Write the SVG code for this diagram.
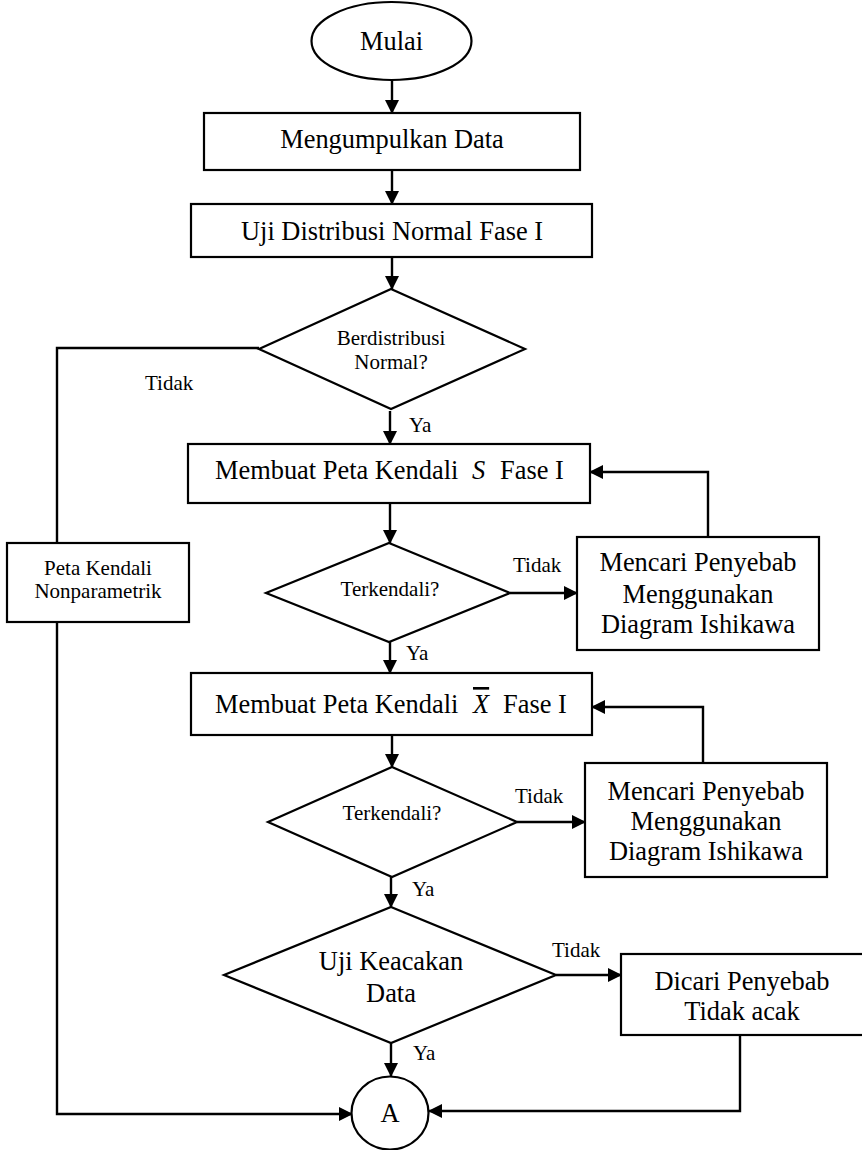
<svg xmlns="http://www.w3.org/2000/svg" width="862" height="1150" viewBox="0 0 862 1150">
<style>
  .shape { fill: #fff; stroke: #000; stroke-width: 2.2; }
  .conn { fill: none; stroke: #000; stroke-width: 2.4; }
  text { font-family: "Liberation Serif", "Times New Roman", serif; fill: #000; }
  .big { font-size: 26.4px; }
  .small { font-size: 21px; }
  .mid { text-anchor: middle; }
  .it { font-style: italic; }
</style>
<defs>
  <marker id="arr" viewBox="0 0 14 14" refX="13" refY="7" markerWidth="14" markerHeight="14" markerUnits="userSpaceOnUse" orient="auto">
    <path d="M0,0 L14,7 L0,14 Z" fill="#000"/>
  </marker>
</defs>
<rect width="862" height="1150" fill="#fff"/>

<g id="connectors">
  <path class="conn" d="M392,80 L392,113" marker-end="url(#arr)"/>
  <path class="conn" d="M392,170 L392,204" marker-end="url(#arr)"/>
  <path class="conn" d="M392,257 L392,289" marker-end="url(#arr)"/>
  <path class="conn" d="M259,348 L57,348 L57,543"/>
  <path class="conn" d="M57,622 L57,1114 L352,1114" marker-end="url(#arr)"/>
  <path class="conn" d="M390,411 L390,444" marker-end="url(#arr)"/>
  <path class="conn" d="M390,503 L390,543" marker-end="url(#arr)"/>
  <path class="conn" d="M510,593 L577,593" marker-end="url(#arr)"/>
  <path class="conn" d="M708,537 L708,472 L590,472" marker-end="url(#arr)"/>
  <path class="conn" d="M390,642 L390,673" marker-end="url(#arr)"/>
  <path class="conn" d="M392,735 L392,767" marker-end="url(#arr)"/>
  <path class="conn" d="M517,822 L585,822" marker-end="url(#arr)"/>
  <path class="conn" d="M703,763 L703,707 L592,707" marker-end="url(#arr)"/>
  <path class="conn" d="M391,877 L391,907" marker-end="url(#arr)"/>
  <path class="conn" d="M556,975 L621,975" marker-end="url(#arr)"/>
  <path class="conn" d="M391,1043 L391,1076" marker-end="url(#arr)"/>
  <path class="conn" d="M740,1035 L740,1111 L429,1111" marker-end="url(#arr)"/>
  <text class="small" x="145" y="390">Tidak</text>
  <text class="small" x="409" y="432">Ya</text>
  <text class="small" x="513" y="572">Tidak</text>
  <text class="small" x="406" y="660">Ya</text>
  <text class="small" x="515" y="803">Tidak</text>
  <text class="small" x="412" y="896">Ya</text>
  <text class="small" x="552" y="957">Tidak</text>
  <text class="small" x="413" y="1060">Ya</text>
</g>

<g id="mulai">
  <ellipse class="shape" cx="391.5" cy="41" rx="80" ry="39"/>
  <text class="big mid" x="391.5" y="50">Mulai</text>
</g>

<g id="mengumpulkan">
  <rect class="shape" x="204" y="113" width="376" height="57"/>
  <text class="big mid" x="392" y="148">Mengumpulkan Data</text>
</g>

<g id="uji-normal">
  <rect class="shape" x="191" y="204" width="401" height="53"/>
  <text class="big mid" x="392" y="240">Uji Distribusi Normal Fase I</text>
</g>

<g id="d-normal">
  <polygon class="shape" points="391,289 525,349 391,409 259,349"/>
  <text class="small mid" x="391" y="345">Berdistribusi</text>
  <text class="small mid" x="391" y="369">Normal?</text>
</g>

<g id="nonparametrik">
  <rect class="shape" x="7" y="543" width="182" height="79"/>
  <text class="small mid" x="98" y="575">Peta Kendali</text>
  <text class="small mid" x="98" y="598">Nonparametrik</text>
</g>

<g id="peta-s">
  <rect class="shape" x="188" y="444" width="402" height="59"/>
  <text class="big" x="215" y="479">Membuat Peta Kendali</text>
  <text class="big it" x="472" y="479">S</text>
  <text class="big" x="500" y="479">Fase I</text>
</g>

<g id="d-s">
  <polygon class="shape" points="389,543 510,593 389,642 266,593"/>
  <text class="small mid" x="390" y="596">Terkendali?</text>
</g>

<g id="ishikawa-s">
  <rect class="shape" x="577" y="537" width="242" height="113"/>
  <text class="big mid" x="698" y="571">Mencari Penyebab</text>
  <text class="big mid" x="698" y="603">Menggunakan</text>
  <text class="big mid" x="698" y="633">Diagram Ishikawa</text>
</g>

<g id="peta-x">
  <rect class="shape" x="191" y="673" width="401" height="62"/>
  <text class="big" x="215" y="713">Membuat Peta Kendali</text>
  <text class="big it" x="473" y="713" style="text-decoration: overline;">X</text>
  <text class="big" x="503" y="713">Fase I</text>
</g>

<g id="d-x">
  <polygon class="shape" points="392,767 517,822 392,877 268,822"/>
  <text class="small mid" x="392" y="820">Terkendali?</text>
</g>

<g id="ishikawa-x">
  <rect class="shape" x="585" y="763" width="242" height="114"/>
  <text class="big mid" x="706" y="800">Mencari Penyebab</text>
  <text class="big mid" x="706" y="830">Menggunakan</text>
  <text class="big mid" x="706" y="860">Diagram Ishikawa</text>
</g>

<g id="d-acak">
  <polygon class="shape" points="391,907 556,975 391,1043 224,975"/>
  <text class="big mid" x="391" y="970">Uji Keacakan</text>
  <text class="big mid" x="391" y="1002">Data</text>
</g>

<g id="tidak-acak">
  <rect class="shape" x="621" y="954" width="250" height="81"/>
  <text class="big mid" x="742" y="990">Dicari Penyebab</text>
  <text class="big mid" x="742" y="1020">Tidak acak</text>
</g>

<g id="konektor-a">
  <ellipse class="shape" cx="390" cy="1113" rx="38.5" ry="36.5"/>
  <text class="big mid" x="390" y="1122">A</text>
</g>
</svg>
